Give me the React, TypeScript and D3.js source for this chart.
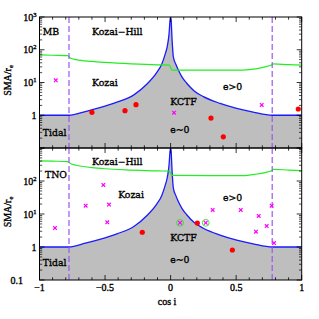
import React from 'react';
import * as d3 from 'd3';

// blue boundary (Kozai / tidal limit)
const boundaryCos = [-1, -0.775, -0.65, -0.54, -0.41, -0.28, -0.18, -0.106, -0.068, -0.043, -0.025, -0.012, -0.004, 0, 0.004, 0.012, 0.021, 0.04, 0.059, 0.09, 0.123, 0.18, 0.25, 0.377, 0.504, 0.63, 0.775, 1];
const boundarySma = [1, 1, 1.3, 1.7, 2.5, 4.2, 9, 20, 36, 70, 130, 300, 800, 1000, 800, 180, 61, 36, 24, 14, 9.5, 5.5, 3.7, 2.3, 1.62, 1.25, 1, 1];

// green Hill limit
const hillCos = [-1, -0.9, -0.785, -0.765, -0.72, -0.6, -0.5, -0.3, -0.1, -0.01, 0.01, 0.3, 0.55, 0.65, 0.72, 0.77, 0.785, 0.9, 1];
const hillTop = [70, 68, 66, 56, 50, 44, 41, 37, 34.5, 34, 24, 24, 24, 26, 30, 34, 37, 35, 34];
const hillBottom = [410, 400, 385, 340, 300, 255, 235, 215, 202, 200, 148, 145, 145, 160, 180, 205, 226, 215, 205];

const kozaiCos = [-0.775, 0.775];

// MB panel
const mbRedCos = [-0.6, -0.348, -0.264, 0.308, 0.402, 0.974];
const mbRedSma = [1.23, 1.38, 2.1, 0.82, 0.22, 1.55];
const mbCrossCos = [-0.876, 0.026, 0.695];
const mbCrossSma = [11.7, 1.2, 2.06];

// TNO panel
const tnoRedCos = [-0.216, 0.204, 0.471];
const tnoRedSma = [2.8, 5.3, 0.81];
const tnoCrossCos = [-0.882, -0.648, -0.513, -0.47, -0.483, 0.072, 0.268, 0.321, 0.535, 0.672, 0.651, 0.733, 0.771, 0.789];
const tnoCrossSma = [3.77, 17.9, 76, 19.4, 5.6, 5.4, 5.4, 13.3, 13.3, 8.7, 2.9, 4.3, 17.9, 1.32];
const tnoCircleCos = [0.072, 0.268];
const tnoCircleSma = [5.4, 5.4];

const mbLabels = [
  { text: 'MB', c: -0.975, s: 348 },
  { text: 'Kozai\u2212Hill', c: -0.6, s: 348 },
  { text: 'Kozai', c: -0.6, s: 9.7 },
  { text: 'Tidal', c: -0.975, s: 0.29 },
  { text: 'e>0', c: 0.4, s: 7.3 },
  { text: 'KCTF', c: -0.003, s: 2.5 },
  { text: 'e~0', c: -0.003, s: 0.35 },
];
const tnoLabels = [
  { text: 'Kozai\u2212Hill', c: -0.6, s: 385 },
  { text: 'TNO', c: -0.958, s: 151 },
  { text: 'Kozai', c: -0.4, s: 37.7 },
  { text: 'Tidal', c: -0.975, s: 0.33 },
  { text: 'e>0', c: 0.4, s: 30.5 },
  { text: 'KCTF', c: -0.003, s: 1.9 },
  { text: 'e~0', c: -0.003, s: 0.4 },
];

const xTicks = [-1, -0.5, 0, 0.5, 1];
const xTickLabels = ['\u22121', '\u22120.5', '0', '0.5', '1'];
const topYTicks = [1000, 100, 10, 1];
const bottomYTicks = [100, 10, 1, 0.1];

const x = d3.scaleLinear().domain([-1, 1]).range([39.5, 301.7]);
const L = 39.5, R = 301.7;

const serif = '"Liberation Serif", "Times New Roman", serif';
const labelFont = '"DejaVu Serif", serif';
const heavy = { stroke: '#000', strokeWidth: 0.35 };

const yLabel = (v: number) => {
  if (v === 1) return <tspan>1</tspan>;
  if (v === 0.1) return <tspan>0.1</tspan>;
  const e = Math.round(Math.log10(v));
  return (
    <>
      <tspan>10</tspan>
      <tspan fontSize={6.5} dy={-4}>{e}</tspan>
    </>
  );
};

const Panel = ({ id, top, bottom, hill, redC, redS, crossC, crossS, circC, circS, labels, yTicks }: any) => {
  const y = d3.scaleLog().domain([0.1, 1000]).range([bottom, top]);
  const pts = boundaryCos.map((c, i) => [c, boundarySma[i]] as [number, number]);
  const area = d3.area<[number, number]>().x(d => x(d[0])).y0(bottom).y1(d => y(d[1])).curve(d3.curveMonotoneX);
  const line = d3.line<[number, number]>().x(d => x(d[0])).y(d => y(d[1])).curve(d3.curveMonotoneX);
  const hillPts = hillCos.map((c, i) => [c, hill[i]] as [number, number]);
  const minor = d3.range(-10, 11).map(k => k / 10);
  const decades = [0.1, 1, 10, 100, 1000];
  const minorY: number[] = [];
  [0.1, 1, 10, 100].forEach(d0 => { for (let k = 2; k <= 9; k++) minorY.push(d0 * k); });
  return (
    <g>
      <defs>
        <clipPath id={`clip-${id}`}>
          <rect x={L} y={top} width={R - L} height={bottom - top} />
        </clipPath>
      </defs>
      <g clipPath={`url(#clip-${id})`}>
        <path d={area(pts) || ''} fill="#bebebe" />
        <path d={line(pts) || ''} fill="none" stroke="#1a1aff" strokeWidth={1.3} />
        <path d={line(hillPts) || ''} fill="none" stroke="#22ee22" strokeWidth={1.2} />
        {kozaiCos.map(c => (
          <line key={c} x1={x(c)} x2={x(c)} y1={top} y2={bottom} stroke="#9a55f0" strokeWidth={1.2} strokeDasharray="6,3" />
        ))}
        {circC.map((c: number, i: number) => (
          <circle key={'g' + i} cx={x(c)} cy={y(circS[i])} r={3.4} fill="none" stroke="#33dd33" strokeWidth={0.9} />
        ))}
        {crossC.map((c: number, i: number) => {
          const cx = x(c), cy = y(crossS[i]), h = 1.8;
          return (
            <path key={'x' + i} d={`M${cx - h},${cy - h}L${cx + h},${cy + h}M${cx - h},${cy + h}L${cx + h},${cy - h}`} stroke="#ff00ff" strokeWidth={1.2} />
          );
        })}
        {redC.map((c: number, i: number) => (
          <circle key={'r' + i} cx={x(c)} cy={y(redS[i])} r={2.6} fill="#ff0000" />
        ))}
      </g>
      {labels.map((l: any) => (
        <text key={l.text} x={x(l.c)} y={y(l.s)} dy="0.35em" fontFamily={labelFont} fontSize={9.3} fill="#000" {...heavy}>{l.text}</text>
      ))}
      {/* x ticks */}
      {minor.map(v => {
        const major = Math.abs(v * 2 - Math.round(v * 2)) < 1e-6;
        const len = major ? 5 : 2.7;
        return (
          <g key={'xt' + v}>
            <line x1={x(v)} x2={x(v)} y1={bottom} y2={bottom - len} stroke="#000" strokeWidth={0.8} />
            <line x1={x(v)} x2={x(v)} y1={top} y2={top + len} stroke="#000" strokeWidth={0.8} />
          </g>
        );
      })}
      {/* y ticks */}
      {decades.map(v => (
        <g key={'yt' + v}>
          <line x1={L} x2={L + 5} y1={y(v)} y2={y(v)} stroke="#000" strokeWidth={0.8} />
          <line x1={R} x2={R - 5} y1={y(v)} y2={y(v)} stroke="#000" strokeWidth={0.8} />
        </g>
      ))}
      {minorY.map(v => (
        <g key={'ym' + v}>
          <line x1={L} x2={L + 2.7} y1={y(v)} y2={y(v)} stroke="#000" strokeWidth={0.7} />
          <line x1={R} x2={R - 2.7} y1={y(v)} y2={y(v)} stroke="#000" strokeWidth={0.7} />
        </g>
      ))}
      {yTicks.map((v: number) => (
        <text key={'yl' + v} x={v === 0.1 ? 23 : 36.5} y={y(v)} dy="0.35em" textAnchor="end" fontFamily={serif} fontSize={10} fill="#000" {...heavy}>
          {yLabel(v)}
        </text>
      ))}
      <rect x={L} y={top} width={R - L} height={bottom - top} fill="none" stroke="#000" strokeWidth={1} />
      <text transform={`translate(11,${(top + bottom) / 2 - 2}) rotate(-90)`} textAnchor="middle" fontFamily={serif} fontSize={10} fill="#000" {...heavy}>
        <tspan>SMA/r</tspan>
        <tspan fontSize={6.5} dy={2}>e</tspan>
      </text>
    </g>
  );
};

export default function App() {
  return (
    <svg width={319} height={319} style={{ position: 'absolute', left: 0, top: 0, background: '#fff' }}>
      <Panel id="mb" top={17} bottom={148} hill={hillTop} redC={mbRedCos} redS={mbRedSma}
        crossC={mbCrossCos} crossS={mbCrossSma} circC={[]} circS={[]} labels={mbLabels} yTicks={topYTicks} />
      <Panel id="tno" top={148} bottom={280} hill={hillBottom} redC={tnoRedCos} redS={tnoRedSma}
        crossC={tnoCrossCos} crossS={tnoCrossSma} circC={tnoCircleCos} circS={tnoCircleSma} labels={tnoLabels} yTicks={bottomYTicks} />
      {xTicks.map((v, i) => (
        <text key={v} x={x(v)} y={291} textAnchor="middle" fontFamily={serif} fontSize={10} fill="#000" {...heavy}>{xTickLabels[i]}</text>
      ))}
      <text x={167} y={305} textAnchor="middle" fontFamily={serif} fontSize={10} fill="#000" {...heavy}>cos i</text>
    </svg>
  );
}
